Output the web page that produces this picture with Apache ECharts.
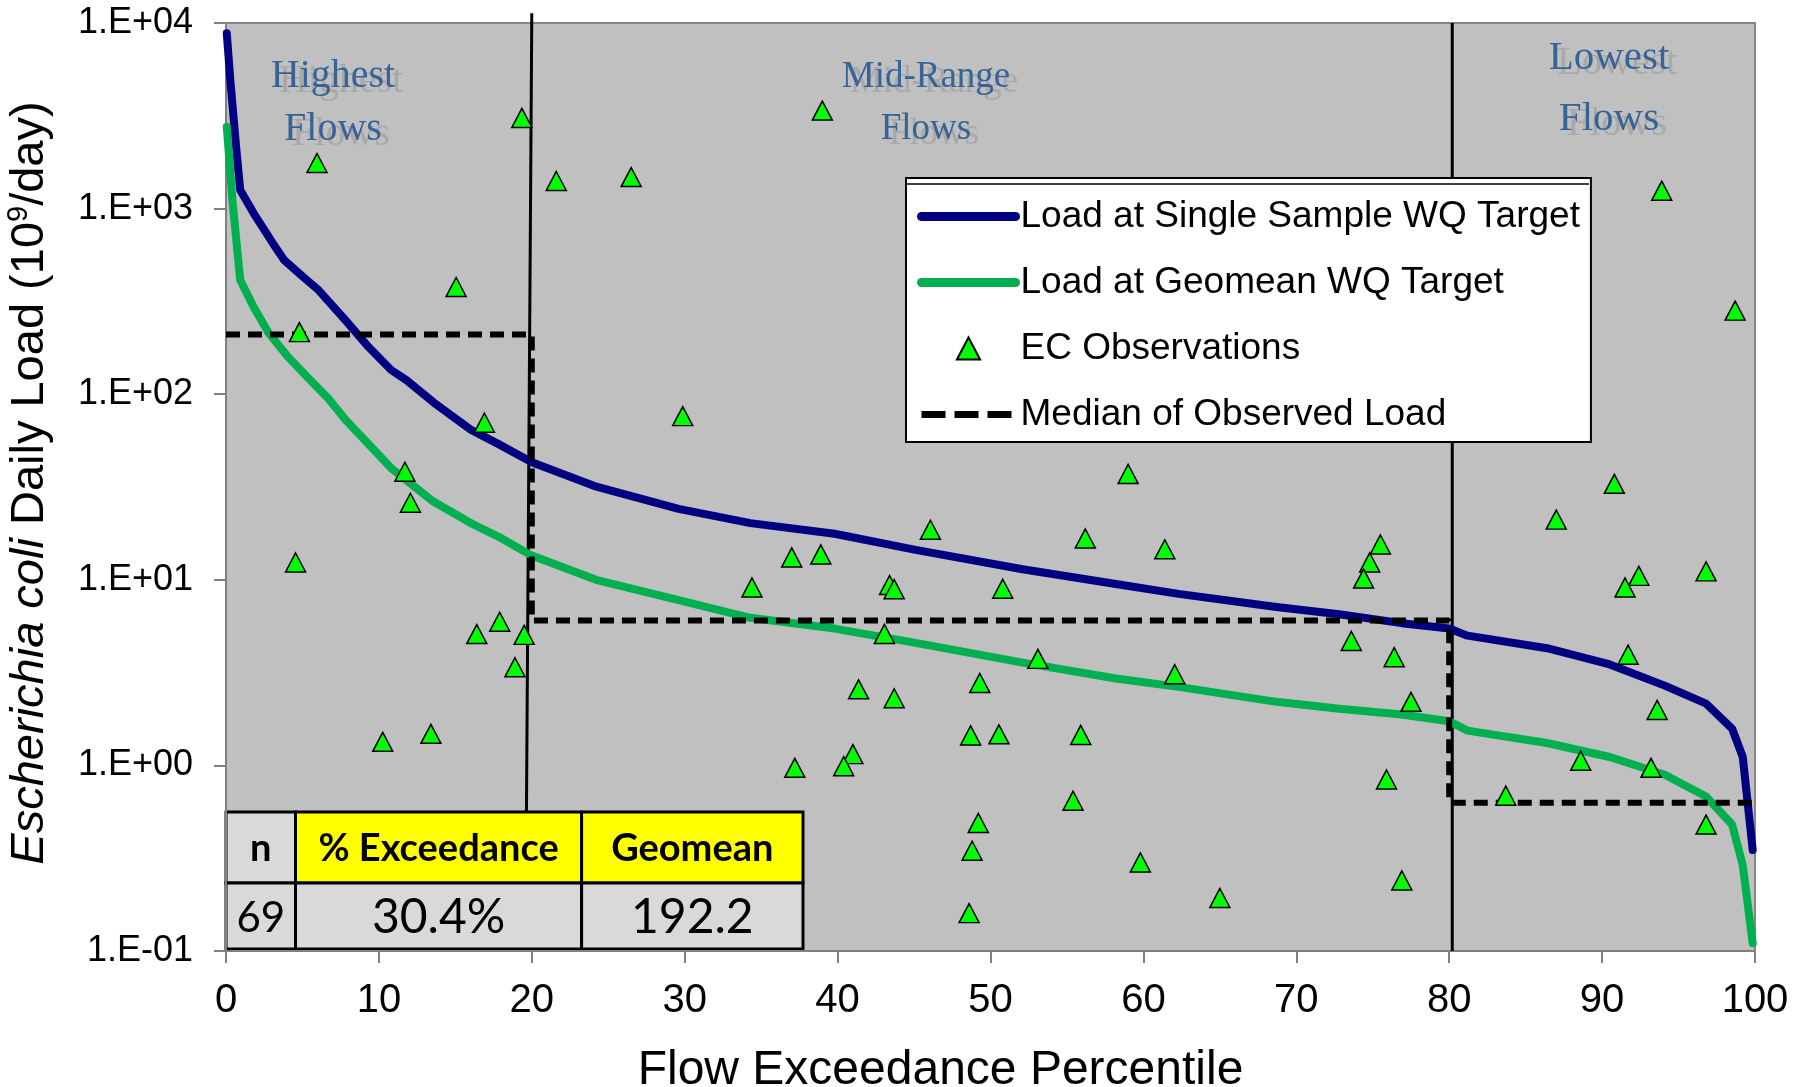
<!DOCTYPE html>
<html>
<head>
<meta charset="utf-8">
<script src="https://cdn.jsdelivr.net/npm/echarts@6/dist/echarts.min.js"></script>
<style>
html,body{margin:0;padding:0;background:#fff;}
#c{width:1806px;height:1087px;}
</style>
</head>
<body>
<div id="c"></div>
<script>
// ---------- data ----------
const xTicks = [0,10,20,30,40,50,60,70,80,90,100];
const yTickExp = [-1,0,1,2,3,4];
const yTickLabels = ['1.E-01','1.E+00','1.E+01','1.E+02','1.E+03','1.E+04'];

const singleP = [0.05,0.3,0.68,0.93,1.8,3.05,3.8,5.05,6.05,7.8,9.31,10.8,11.8,13.6,16.06,17.8,20.0,24.1,29.6,34.3,39.8,45.1,52.1,58.2,62.3,68.7,72.8,76.9,80.0,81.2,86.4,90.5,94.1,96.8,98.5,99.2,99.85];
const singleV = [8800,4730,2070,1260,946,653,529,428,364,251,180,135,119,90,64,54,43,32,24.1,20.2,17.7,14.5,11.4,9.5,8.4,7.13,6.52,5.84,5.46,5.0,4.28,3.50,2.69,2.15,1.58,1.11,0.35];

const geoP = [0.05,0.42,0.93,1.8,2.8,4.05,5.3,6.68,7.8,10.8,13.56,16.06,17.8,20.0,24.2,29.6,34.3,39.8,45.1,52.1,58.2,62.3,68.7,72.8,76.9,80.0,81.2,86.4,90.5,94.1,96.8,98.5,99.2,99.85];
const geoV = [2760,1110,412,296,213,159,124,95,73,40,26.4,20.1,17.1,13.5,10.0,7.78,6.24,5.46,4.57,3.58,2.94,2.65,2.20,2.02,1.88,1.73,1.54,1.32,1.11,0.89,0.68,0.48,0.29,0.11];

const obsP = [5.95,19.35,15.05,4.8,16.9,11.7,12.06,4.55,17.9,16.4,19.5,18.9,10.25,13.4,
  21.6,26.5,39.0,29.87,59.0,46.07,56.2,61.4,37.0,38.9,34.4,43.4,43.7,50.8,43.06,53.1,62.05,49.3,41.37,43.7,48.7,50.55,55.9,41.0,40.4,37.2,55.4,49.2,48.8,59.8,48.6,65.0,75.5,74.8,74.4,73.6,76.4,77.5,75.9,76.9,
  90.8,87.0,92.4,91.5,96.8,91.7,93.6,88.6,93.2,83.7,96.8,93.9,98.7];
const obsV = [1760,3080,378,216,70.2,38.2,26.0,12.4,5.94,5.1,5.05,3.38,1.34,1.48,
  1409,1479,3373,76.2,37.2,18.6,16.7,14.6,13.2,13.7,9.09,9.37,8.9,8.95,5.11,3.75,3.10,2.78,2.57,2.30,1.45,1.47,1.46,1.15,0.99,0.97,0.645,0.49,0.347,0.30,0.16,0.193,15.5,12.4,10.15,4.68,3.83,2.20,0.84,0.24,
  32.9,21.1,10.5,9.09,11.1,3.95,1.99,1.06,0.97,0.687,0.48,1249,282];

const medianP = [0,20,20,80,80,100];
const medianV = [210,210,6.04,6.04,0.63,0.63];

const sep20P = [20.0,19.65];
const sep20V = [11300,0.56];
const sep80P = [80.2,80.2];
const sep80V = [10000,0.1];

const seriesNames = ['Load at Single Sample WQ Target','Load at Geomean WQ Target','EC Observations','Median of Observed Load'];
const regionLabels = [['Highest','Flows'],['Mid-Range','Flows'],['Lowest','Flows']];
const tableHeaders = ['n','% Exceedance','Geomean'];
const tableValues = ['69','30.4%','192.2'];

// ---------- helpers ----------
const zip = (a,b) => a.map((v,i)=>[v,b[i]]);
const FONT = '"Liberation Sans", Arial, sans-serif';
const SERIF = '"Liberation Serif", "Times New Roman", serif';
const TFONT = 'Lato, "Open Sans", sans-serif';

// ---------- table graphic ----------
const tX = [226,295.5,581.6,803];
const tY = [812,883,949];
const tableEls = [];
for (let c=0;c<3;c++){
  tableEls.push({type:'rect',shape:{x:tX[c],y:tY[0],width:tX[c+1]-tX[c],height:tY[1]-tY[0]},
    style:{fill:c===0?'#d9d9d9':'#ffff00',stroke:'#000',lineWidth:3}});
  tableEls.push({type:'rect',shape:{x:tX[c],y:tY[1],width:tX[c+1]-tX[c],height:tY[2]-tY[1]},
    style:{fill:'#d9d9d9',stroke:'#000',lineWidth:3}});
  tableEls.push({type:'text',style:{text:tableHeaders[c],x:(tX[c]+tX[c+1])/2,y:(tY[0]+tY[1])/2+1,
    align:'center',verticalAlign:'middle',fill:'#000',font:'bold 38px '+TFONT}});
  tableEls.push({type:'text',style:{text:tableValues[c],x:(tX[c]+tX[c+1])/2,y:(tY[1]+tY[2])/2+2,
    align:'center',verticalAlign:'middle',fill:'#000',font:(c===0?'42px ':'48px ')+TFONT}});
}

// ---------- region labels ----------
const regPos = [[333,76,129],[926,77,129],[1609,58,119]];
const regSize = [40,37,41];
const regEls = [];
regionLabels.forEach((lab,i)=>{
  const [x,y1,y2] = regPos[i];
  const fs = regSize[i];
  [[lab[0],y1],[lab[1],y2]].forEach(([t,y])=>{
    regEls.push({type:'text',style:{text:t,x:x+8,y:y+5,align:'center',verticalAlign:'middle',
      fill:'rgba(80,80,80,0.2)',font:fs+'px '+SERIF}});
    regEls.push({type:'text',style:{text:t,x:x,y:y,align:'center',verticalAlign:'middle',
      fill:'#376496',font:fs+'px '+SERIF}});
  });
});

const noSym = {color:'rgba(0,0,0,0)',borderWidth:0,opacity:0};

const chart = echarts.init(document.getElementById('c'), null, {renderer:'canvas'});
chart.setOption({
  animation:false,
  backgroundColor:'#ffffff',
  grid:{left:226,right:51,top:23,bottom:136,show:true,backgroundColor:'#c0c0c0',
    borderColor:'#868686',borderWidth:2,containLabel:false,outerBoundsMode:'none'},
  xAxis:{
    type:'value',min:0,max:100,interval:10,
    name:'Flow Exceedance Percentile',nameLocation:'middle',nameGap:96,nameMoveOverlap:false,
    nameTextStyle:{fontSize:48,color:'#000',fontFamily:FONT,padding:[0,100,0,0]},
    axisLine:{show:true,onZero:false,lineStyle:{color:'#808080',width:2}},
    axisTick:{show:true,length:12,inside:false,lineStyle:{color:'#808080',width:2}},
    axisLabel:{fontSize:40,color:'#000',fontFamily:FONT,margin:30,
      formatter:v=>String(xTicks[xTicks.indexOf(v)])},
    splitLine:{show:false}
  },
  yAxis:{
    type:'log',logBase:10,min:0.1,max:10000,splitNumber:5,
    name:'{i|Escherichia coli}{n| Daily Load (10}{s|9}{n|/day)}',
    nameLocation:'middle',nameGap:170,nameRotate:90,nameMoveOverlap:false,
    nameTextStyle:{fontSize:47,color:'#000',fontFamily:FONT,padding:[0,0,0,8],
      rich:{
        i:{fontStyle:'italic',fontSize:47,fontFamily:FONT,color:'#000',lineHeight:52},
        n:{fontSize:47,fontFamily:FONT,color:'#000',lineHeight:52},
        s:{fontSize:29,fontFamily:FONT,color:'#000',verticalAlign:'top',lineHeight:52,padding:[0,0,14,0]}
      }},
    axisLine:{show:true,lineStyle:{color:'#808080',width:2}},
    axisTick:{show:true,length:12,inside:false,lineStyle:{color:'#808080',width:2}},
    axisLabel:{fontSize:36,color:'#000',fontFamily:FONT,margin:33,
      formatter:v=>{const k=yTickExp.indexOf(Math.round(Math.log10(v)));return k>=0?yTickLabels[k]:'';}},
    splitLine:{show:false},
    minorTick:{show:false}
  },
  legend:{
    orient:'vertical',left:906,top:178,
    backgroundColor:'#ffffff',borderColor:'#000',borderWidth:2,borderRadius:0,
    padding:[20,11,9,11],itemWidth:94,itemHeight:22,itemGap:29,
    symbolKeepAspect:true,
    textStyle:{fontSize:37,color:'#000',fontFamily:FONT},
    data:[
      {name:seriesNames[0],itemStyle:noSym,lineStyle:{color:'#000080',width:9,type:'solid'}},
      {name:seriesNames[1],itemStyle:noSym,lineStyle:{color:'#00b050',width:9,type:'solid'}},
      {name:seriesNames[2],icon:'path://M10,0 L20,19 L0,19 Z'},
      {name:seriesNames[3],itemStyle:noSym,lineStyle:{color:'#000',width:7,type:[24,9]}}
    ],
    z:20
  },
  series:[
    {name:seriesNames[0],type:'line',data:zip(singleP,singleV),symbol:'none',showSymbol:false,
      smooth:false,
      lineStyle:{color:'#000080',width:8,join:'round',cap:'round'},itemStyle:{color:'#000080'},z:3},
    {name:seriesNames[1],type:'line',data:zip(geoP,geoV),symbol:'none',showSymbol:false,
      smooth:false,
      lineStyle:{color:'#00b050',width:8,join:'round',cap:'round'},itemStyle:{color:'#00b050'},z:3},
    {name:seriesNames[3],type:'line',data:zip(medianP,medianV),symbol:'none',showSymbol:false,
      lineStyle:{color:'#000',width:6,type:[14,8]},itemStyle:{color:'#000'},z:4},
    {name:'sep20',type:'line',data:zip(sep20P,sep20V),symbol:'none',showSymbol:false,clip:false,
      lineStyle:{color:'#000',width:3},z:2,silent:true},
    {name:'sep80',type:'line',data:zip(sep80P,sep80V),symbol:'none',showSymbol:false,clip:false,
      lineStyle:{color:'#000',width:3},z:2,silent:true},
    {name:seriesNames[2],type:'scatter',data:zip(obsP,obsV),symbol:'triangle',symbolSize:[20,19],
      itemStyle:{color:'#00ff00',borderColor:'#000',borderWidth:1.5,opacity:1},z:6}
  ],
  graphic:[
    {type:'group',z:30,children:tableEls},
    {type:'group',z:1,children:regEls},
    {type:'line',z:31,shape:{x1:907,y1:184,x2:1589,y2:184},style:{stroke:'#000',lineWidth:1.5}}
  ]
});
</script>
</body>
</html>
